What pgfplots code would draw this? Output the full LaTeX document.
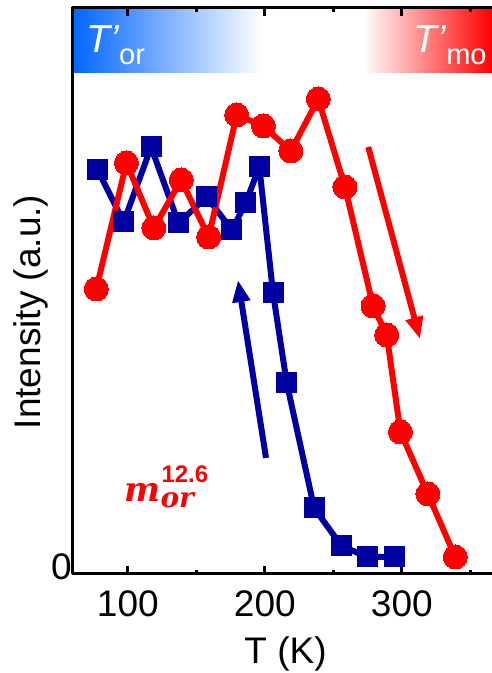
\RequirePackage{fix-cm}
\documentclass[border=0pt]{standalone}
\usepackage{fontspec}
\setmainfont{Liberation Sans}
\newfontfamily\labelserif{DejaVu Serif}
\usepackage{pgfplots}
\pgfplotsset{compat=1.18}
\usetikzlibrary{arrows.meta}

\definecolor{coolline}{RGB}{0,0,160}
\definecolor{warmline}{RGB}{255,0,0}
\definecolor{bandblue}{RGB}{0,100,255}

% cooling run (squares)
\pgfplotstableread{
T     I
78    3.97
97    3.45
117   4.20
137   3.44
157.6 3.70
176   3.37
186   3.64
196   4.00
206   2.74
216   1.84
236   0.59
256   0.21
275   0.10
295   0.10
}\cooling

% warming run (circles)
\pgfplotstableread{
T     I
77    2.78
99    4.04
119   3.39
139   3.87
159   3.30
179.5 4.52
199   4.41
219   4.16
239   4.68
258.5 3.80
279   2.61
289   2.32
299   1.35
319   0.73
339   0.10
}\warming

\begin{document}
\fontsize{37}{44}\selectfont
\begin{tikzpicture}
\useasboundingbox (0,0) rectangle (492pt,673pt);
\begin{axis}[
  at={(73pt,99pt)}, anchor=south west,
  scale only axis, width=425pt, height=566pt,
  xmin=60, xmax=370.2, ymin=-0.07, ymax=5.59,
  axis on top,
  axis line style={line width=3pt},
  xtick={100,200,300}, minor xtick={150,250,350},
  ytick={0}, yticklabels={0},
  tick align=inside,
  major tick length=8pt, minor tick length=4pt,
  every tick/.style={black, line width=2.7pt},
  y tick style={draw=none},
  /pgf/number format/assume math mode=true,
  tick label style={font=\fontsize{37}{44}\selectfont, inner sep=0pt},
  xticklabel style={yshift=-16pt},
  yticklabel style={xshift=-1pt},
  xlabel={T (K)},
  xlabel style={at={(axis description cs:0.5,0)}, anchor=north, inner sep=0pt, yshift=-62pt, font=\fontsize{37}{44}\selectfont},
  ylabel={Intensity (a.u.)},
  ylabel style={at={(axis description cs:-0.0988,0.463)}, anchor=center, inner sep=0pt, font=\fontsize{37}{44}\selectfont},
  line join=round,
]
% temperature band along the top
\fill[left color=bandblue, right color=white] (axis cs:59,4.94) rectangle (axis cs:198.7,5.7);
\fill[left color=white, right color=warmline] (axis cs:271.7,4.94) rectangle (axis cs:366,5.7);
\fill[warmline] (axis cs:365.9,4.94) rectangle (axis cs:372,5.7);
\node[anchor=base west, inner sep=0pt, text=white] at (axis cs:69.5,5.14)
  {\fontsize{39}{44}\selectfont\itshape T’\/\raisebox{-12pt}{\upshape\fontsize{29}{34}\selectfont or}};
\node[anchor=base west, inner sep=0pt, text=white] at (axis cs:308.2,5.14)
  {\fontsize{39}{44}\selectfont\itshape T’\/\raisebox{-12pt}{\upshape\fontsize{29}{34}\selectfont mo}};

\addplot[color=coolline, line width=6pt, mark=square*, mark size=10pt,
  mark options={line width=0pt}] table[x=T, y=I] {\cooling};
\addplot[color=warmline, line width=6pt, mark=*, mark size=12pt,
  mark options={line width=0pt}] table[x=T, y=I] {\warming};

% direction of the temperature sweeps
\draw[coolline, line width=6pt, -{Triangle[length=22pt, width=17pt]}]
  (axis cs:200.9,1.09) -- (axis cs:180.4,2.87);
\draw[warmline, line width=6pt, -{Triangle[length=22pt, width=17pt]}]
  (axis cs:275.5,4.20) -- (axis cs:313.3,2.28);

% sample label
\node[text=warmline, anchor=base west, inner sep=0pt] at (axis cs:97.5,0.65)
  {\labelserif\bfseries\itshape\fontsize{34}{40}\selectfont m%
   \rlap{\raisebox{-6pt}{\fontsize{28}{32}\selectfont or}}%
   \hspace{1pt}\raisebox{19pt}{\upshape\rmfamily\bfseries\fontsize{24}{28}\selectfont 12.6}};
\end{axis}
\end{tikzpicture}
\end{document}
